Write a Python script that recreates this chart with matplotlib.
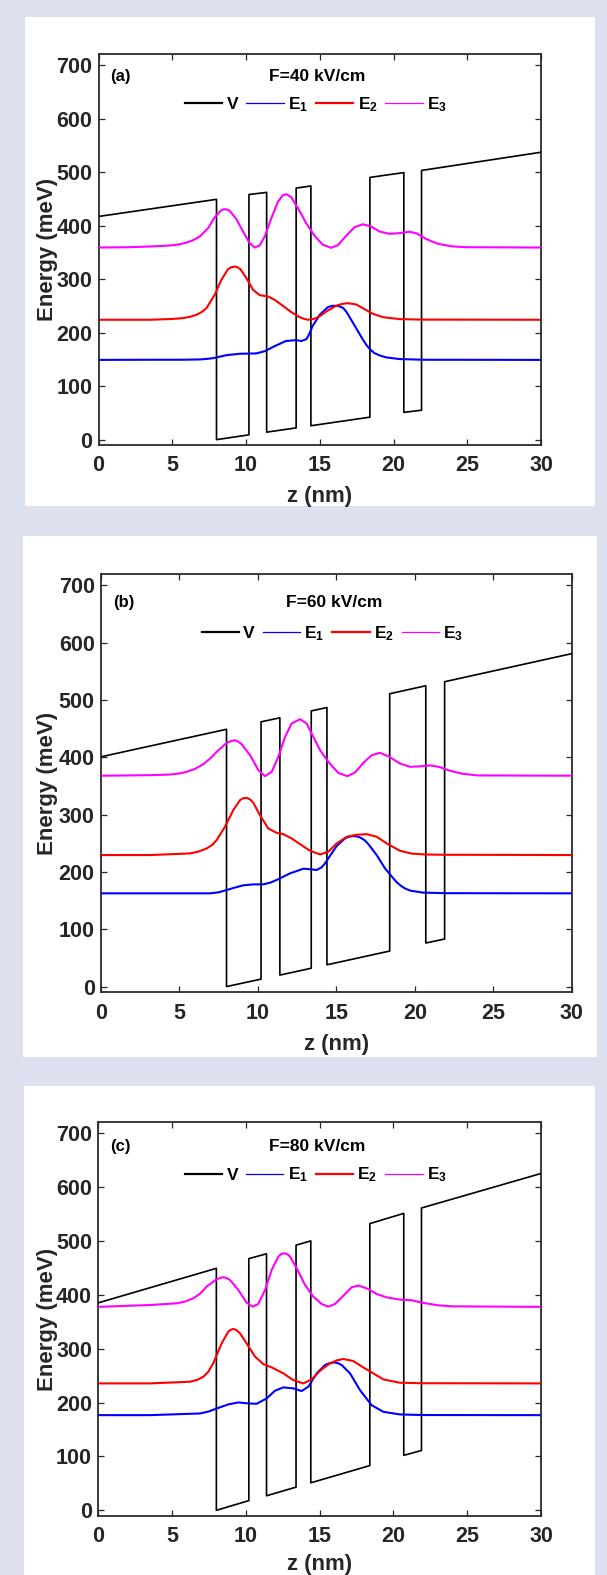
import matplotlib
matplotlib.use("Agg")
import matplotlib.pyplot as plt
from matplotlib.lines import Line2D
from matplotlib.patches import Rectangle

plt.rcParams['font.family'] = ['Liberation Sans', 'DejaVu Sans']
plt.rcParams['font.weight'] = 'bold'
plt.rcParams['mathtext.fontset'] = 'custom'
plt.rcParams['mathtext.rm'] = 'Liberation Sans:bold'
plt.rcParams['mathtext.it'] = 'Liberation Sans:bold'
plt.rcParams['mathtext.bf'] = 'Liberation Sans:bold'

# ---------------- data ----------------
fields = ["F=40 kV/cm", "F=60 kV/cm", "F=80 kV/cm"]
panel_tags = ["(a)", "(b)", "(c)"]
legend_labels = ["V", "E$_1$", "E$_2$", "E$_3$"]
x_ticks = [0, 5, 10, 15, 20, 25, 30]
y_ticks = [0, 100, 200, 300, 400, 500, 600, 700]

# potential profile (breakpoints)
z_V = [0, 8, 8, 10.2, 10.2, 11.4, 11.4, 13.4, 13.4, 14.4, 14.4, 18.4, 18.4, 20.7, 20.7, 21.9, 21.9, 30]
V_40 = [417, 449, 0, 9, 458, 462, 14, 22, 470, 474, 26, 42, 490, 499, 51, 55, 503, 537]
V_60 = [401, 449, 0, 13, 462, 469, 20, 32, 481, 487, 38, 62, 511, 525, 76, 83, 532, 581]
V_80 = [385, 449, 0, 18, 467, 476, 27, 43, 492, 500, 51, 83, 532, 551, 102, 111, 561, 625]

# ---- F = 40 kV/cm ----
z_E1_40 = [0, 3.5, 5.7, 6.9, 7.4, 7.8, 8.7, 9.6, 10.7, 11.3, 11.9, 12.7, 13.4, 13.75, 14.1, 14.3, 14.5, 15.0,
           15.55, 15.85, 16.1, 16.35, 16.6, 16.8, 17.0, 17.3, 17.6, 17.9, 18.15, 18.4, 18.7, 19.1, 19.5, 20.4, 22, 30]
E1_40 = [149, 149.3, 149.3, 149.9, 151, 152.4, 158, 160.5, 161.1, 165.5, 174.2, 184.2, 186, 184.2, 187.9, 198,
         211.6, 233.3, 247.6, 250, 250.1, 249, 245.7, 239, 230.2, 216, 202.2, 188, 177.3, 169, 161.8, 157, 153.7,
         150.6, 149.3, 149]
z_E2_40 = [0, 3.5, 5.0, 5.74, 6.2, 6.64, 7.0, 7.32, 7.88, 8.33, 8.78, 9.0, 9.24, 9.42, 9.62, 10.03, 10.48, 10.93,
           11.49, 11.94, 12.5, 13.07, 13.63, 13.9, 14.2, 14.5, 14.76, 15.1, 15.44, 16.11, 16.5, 16.9, 17.47, 18.03,
           18.6, 19.28, 20.4, 22, 30]
E2_40 = [224, 224, 225.5, 227.1, 229.5, 233.3, 238.5, 245.7, 270.6, 298.6, 318.5, 322, 323.5, 322, 318.5, 301.7,
         279.9, 270, 267.5, 261.3, 250.1, 238.3, 228.9, 226, 224, 225, 227.1, 232.5, 239.5, 250.1, 253.5, 255,
         252.6, 243.9, 235.2, 228.9, 225.2, 224.3, 224]
z_E3_40 = [0, 2, 3.48, 4.84, 5.5, 5.97, 6.4, 6.87, 7.43, 7.88, 8.27, 8.42, 8.56, 8.73, 8.9, 9.35, 9.8, 10.25,
           10.59, 10.93, 11.27, 11.72, 12.17, 12.5, 12.73, 13.07, 13.52, 14.08, 14.65, 15.21, 15.78, 16.23, 16.79,
           17.36, 17.92, 18.48, 19.05, 19.73, 20.4, 21.1, 21.6, 22.2, 23, 24, 25, 30]
E3_40 = [359, 359.5, 360.9, 362.7, 365, 368.3, 372.5, 379.6, 395.1, 415.6, 427.4, 429.8, 430.6, 429.8, 427.4,
         411.9, 388.9, 367.1, 359, 362.7, 379.6, 413.8, 444.9, 456.7, 458.7, 453, 432.5, 404.5, 380.9, 364.1,
         358.4, 363.4, 380.9, 397, 402.5, 398.2, 388.9, 384.6, 385.8, 388.5, 385, 375, 366, 361, 359.5, 359]

# ---- F = 60 kV/cm ----
z_E1_60 = [0, 3.12, 6.95, 7.5, 8.01, 8.5, 9.07, 9.7, 10.35, 10.8, 11.19, 12.05, 12.9, 13.43, 13.74, 14.06,
           14.25, 14.49, 15.02, 15.55, 15.8, 16.08, 16.3, 16.51, 16.8, 17.04, 17.57, 18.1, 18.63, 18.85, 19.05,
           19.35, 19.7, 20.5, 22, 30]
E1_60 = [162.7, 162.7, 162.7, 164.5, 168.5, 172.5, 176.7, 178.3, 178.4, 181.5, 186, 197.6, 205.7, 204.5, 203.4,
         208.1, 214, 223.8, 245.3, 258.5, 261.5, 262.7, 262, 260.3, 255.5, 248.6, 229.5, 206.3, 188.9, 182,
         177.3, 171.5, 167.5, 164, 163, 162.7]
z_E2_60 = [0, 3.12, 5.67, 6.2, 6.74, 7.1, 7.37, 7.9, 8.43, 8.86, 9.05, 9.29, 9.5, 9.71, 10.13, 10.66, 11.19,
           11.62, 12.15, 12.68, 13.32, 13.96, 14.49, 15.02, 15.66, 16.3, 16.93, 17.57, 18.21, 19.05, 19.8, 20.7,
           22, 30]
E2_60 = [229.5, 229.5, 232.4, 235.5, 241.1, 247.5, 255.6, 278.8, 307.9, 325.3, 328.5, 329.4, 326.5, 320.7,
         299.2, 275.9, 268.3, 266, 258.5, 248.6, 237, 230.6, 235.3, 249.8, 261.4, 264.9, 266, 261.4, 249.8, 237,
         232, 230.5, 230, 229.5]
z_E3_60 = [0, 3.12, 4.4, 5.0, 5.46, 6.0, 6.52, 7.0, 7.37, 8.01, 8.3, 8.54, 8.75, 8.97, 9.5, 10.03, 10.45, 10.88,
           11.3, 11.73, 12.15, 12.68, 13.11, 13.53, 13.96, 14.49, 15.12, 15.7, 16.19, 16.72, 17.25, 17.78, 18.31,
           19.05, 19.7, 20.4, 21.0, 21.6, 22.2, 23, 24, 30]
E3_60 = [368, 368.9, 370, 372, 374.7, 380, 388.1, 399, 409.6, 425.3, 428.5, 429.9, 427.5, 422.9, 403.8, 377.7,
         367.2, 374.7, 400.9, 435.8, 459, 466.6, 459, 435.8, 412.6, 392.2, 373, 367.2, 373.6, 390.4, 403.8,
         407.8, 402, 389.3, 383.5, 384.5, 386, 383, 377, 371.5, 368.5, 368]

# ---- F = 80 kV/cm ----
z_E1_80 = [0, 3.5, 6.89, 7.5, 8.02, 8.81, 9.49, 10.17, 10.73, 11.41, 11.97, 12.54, 13.21, 13.78, 14.23, 14.8,
           15.36, 15.66, 15.97, 16.25, 16.49, 17.06, 17.73, 18.52, 19.31, 20.44, 22, 30]
E1_80 = [176.6, 176.6, 179.7, 183.5, 189, 196.5, 200.2, 198.3, 197.7, 207.6, 221.9, 228.1, 226.3, 221.3, 229.4,
         254.1, 269.6, 273, 274.5, 273, 269.6, 254.1, 223.1, 195.2, 182.8, 177.9, 176.8, 176.6]
z_E2_80 = [0, 3.5, 6.21, 6.7, 7.12, 7.45, 7.79, 8.36, 8.81, 8.98, 9.15, 9.35, 9.6, 10.05, 10.62, 11.18, 11.75,
           12.54, 13.21, 13.89, 14.46, 15.02, 15.7, 16.2, 16.6, 17.28, 17.96, 18.64, 19.31, 20.44, 22, 30]
E2_80 = [235.5, 235.5, 238.6, 242, 247.9, 257, 272.7, 309.9, 331.6, 335, 336.6, 334.5, 328.5, 309.9, 285.1,
         271.4, 265.2, 254.1, 241.6, 235.5, 242.9, 259, 272.7, 278.5, 280.8, 277, 265.2, 254.1, 243, 236.7,
         235.8, 235.5]
z_E3_80 = [0, 3.5, 5.31, 5.9, 6.44, 6.9, 7.34, 8.02, 8.3, 8.47, 8.65, 8.92, 9.49, 10.05, 10.46, 10.84, 11.3,
           11.75, 12.2, 12.4, 12.61, 12.8, 12.99, 13.44, 14.01, 14.57, 15.14, 15.59, 16.04, 16.61, 17.17, 17.62,
           18.18, 18.86, 19.54, 20.44, 21.2, 22, 23, 24, 30]
E3_80 = [377.5, 381, 384.1, 387.5, 393.4, 402, 415.1, 428.7, 431.5, 432.5, 431.5, 427.5, 408.9, 385.3, 377.9,
         382.8, 408.9, 446.1, 470.9, 475.5, 477.1, 475.5, 470.9, 449.2, 418.2, 396.5, 382.8, 377.9, 382.8, 398.3,
         413.9, 417, 412, 401.4, 395.2, 390.9, 390, 385, 380.5, 378.5, 377.5]

# ---------------- figure ----------------
W, H = 607, 1575
fig = plt.figure(figsize=(W / 100, H / 100), dpi=100)
fig.patch.set_facecolor('#dde1ef')

white_boxes = [(25, 17, 595, 506), (23, 536, 597, 1057), (24, 1086, 595, 1575)]
for (x0, y0, x1, y1) in white_boxes:
    fig.add_artist(Rectangle((x0 / W, 1 - y1 / H), (x1 - x0) / W, (y1 - y0) / H,
                             transform=fig.transFigure, facecolor='white', edgecolor='none', zorder=-5))

axes_px = [(98.5, 54.3, 541, 445), (101, 574, 571.7, 992.3), (98.3, 1122.3, 541, 1515.7)]
xlabel_y = [-0.104, -0.099, -0.097]
title_E = [678, 670, 675]
legend_E = [626, 616, 622]

panels = [
    (V_40, z_E1_40, E1_40, z_E2_40, E2_40, z_E3_40, E3_40),
    (V_60, z_E1_60, E1_60, z_E2_60, E2_60, z_E3_60, E3_60),
    (V_80, z_E1_80, E1_80, z_E2_80, E2_80, z_E3_80, E3_80),
]

for i, (Vv, z1, e1, z2, e2, z3, e3) in enumerate(panels):
    l, t, r, b = axes_px[i]
    ax = fig.add_axes([l / W, 1 - b / H, (r - l) / W, (b - t) / H])
    ax.set_facecolor('white')
    ax.plot(z_V, Vv, color='black', lw=1.2, zorder=3)
    ax.plot(z1, e1, color='#0000ff', lw=1.5, zorder=4)
    ax.plot(z2, e2, color='#ff0000', lw=1.5, zorder=4)
    ax.plot(z3, e3, color='#ff00ff', lw=1.5, zorder=4)

    ax.set_xlim(0, 30)
    ax.set_ylim(-10, 720)
    ax.set_xticks(x_ticks)
    ax.set_yticks(y_ticks)
    ax.tick_params(direction='in', top=True, right=True, length=4, width=0.9,
                   labelsize=15.5, color='#262626')
    ax.tick_params(axis='x', pad=7.5)
    ax.tick_params(axis='y', pad=4.5)
    for lab in ax.get_xticklabels() + ax.get_yticklabels():
        lab.set_fontweight('bold')
        lab.set_color('#262626')
    for sp in ax.spines.values():
        sp.set_linewidth(1.3)
        sp.set_color('#2b2b2b')

    ax.set_xlabel('z (nm)', fontsize=16, fontweight='bold', color='#262626')
    ax.set_ylabel('Energy (meV)', fontsize=16, fontweight='bold', color='#262626')
    ax.xaxis.set_label_coords(0.5, xlabel_y[i])
    ax.yaxis.set_label_coords(-0.091, 0.5)

    ax.text(0.8, title_E[i], panel_tags[i], fontsize=12, fontweight='bold', ha='left', va='center')
    ax.text(14.85, title_E[i], fields[i], fontsize=12.5, fontweight='bold', ha='center', va='center')

    handles = [Line2D([], [], color='black', lw=1.6),
               Line2D([], [], color='#0000ff', lw=0.9),
               Line2D([], [], color='#ff0000', lw=1.6),
               Line2D([], [], color='#ff00ff', lw=0.9)]
    ax.legend(handles, legend_labels, loc='center', bbox_to_anchor=(14.75, legend_E[i]),
              bbox_transform=ax.transData, ncol=4, frameon=False, handlelength=2.15,
              handletextpad=0.25, columnspacing=0.45, borderpad=0, borderaxespad=0,
              prop={'size': 12.5, 'weight': 'bold'})

fig.savefig('out.png', dpi=100)
